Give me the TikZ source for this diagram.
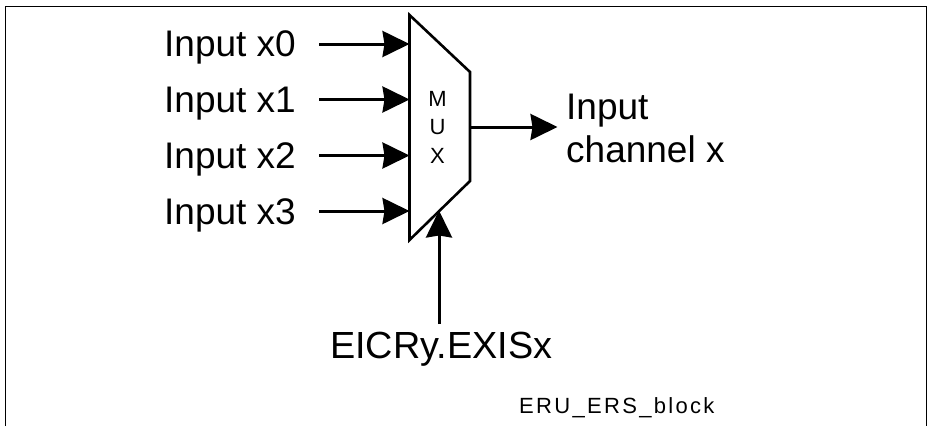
\documentclass[tikz,border=0pt]{standalone}
\usepackage{fontspec}
\setmainfont{Liberation Sans}
\usetikzlibrary{arrows.meta}
\tikzset{
  x=1pt,y=-1pt,
  wire/.style={line width=3pt,-{Stealth[length=27pt,width=26pt,inset=2pt]},shorten >=-0.5pt},
  biglabel/.style={font=\fontsize{37}{43}\selectfont,inner sep=0pt,anchor=base west},
  muxlabel/.style={font=\fontsize{22}{28.5}\selectfont,inner sep=0pt,align=center},
  taglabel/.style={font=\fontsize{22}{25}\selectfont\addfontfeatures{LetterSpace=10.5},inner sep=0pt,anchor=base west},
  outline/.style={line width=2.6pt,line join=miter},
  frameline/.style={line width=1.8pt}
}
\begin{document}
\begin{tikzpicture}
\useasboundingbox (0,0) rectangle (928,426);
\fill[white] (0,0) rectangle (928,426);
\draw[frameline] (5.5,426) -- (5.5,6.5) -- (926.5,6.5) -- (926.5,426);
\coordinate (tl) at (409.5,15);
\coordinate (tr) at (470,72);
\coordinate (br) at (470,181);
\coordinate (bl) at (409.5,240);
\draw[outline] (tl) -- (tr) -- (br) -- (bl) -- cycle;
\node[muxlabel] (mux) at (437.5,127) {M\\U\\X};
\node[biglabel] (in0) at (164,56) {Input x0};
\node[biglabel] (in1) at (164,112) {Input x1};
\node[biglabel] (in2) at (164,168) {Input x2};
\node[biglabel] (in3) at (164,224) {Input x3};
\node[biglabel,align=left,anchor=north west] (out) at (566,94) {Input\\channel x};
\node[biglabel,font=\fontsize{37.8}{43}\selectfont] (sel) at (330,358) {EICRy.EXISx};
\node[taglabel] (tag) at (519,413) {ERU\_ERS\_block};
\foreach \i/\y in {0/44,1/99.5,2/155.5,3/211}{
  \coordinate (s\i) at (319,\y);
  \coordinate (e\i) at (409,\y);
  \draw[wire] (s\i) -- (e\i);
}
\coordinate (os) at (470,127);
\coordinate (oe) at (557,127);
\draw[wire] (os) -- (oe);
\coordinate (cs) at (439,324);
\coordinate (ce) at (439,211);
\draw[wire] (cs) -- (ce);
\end{tikzpicture}
\end{document}
